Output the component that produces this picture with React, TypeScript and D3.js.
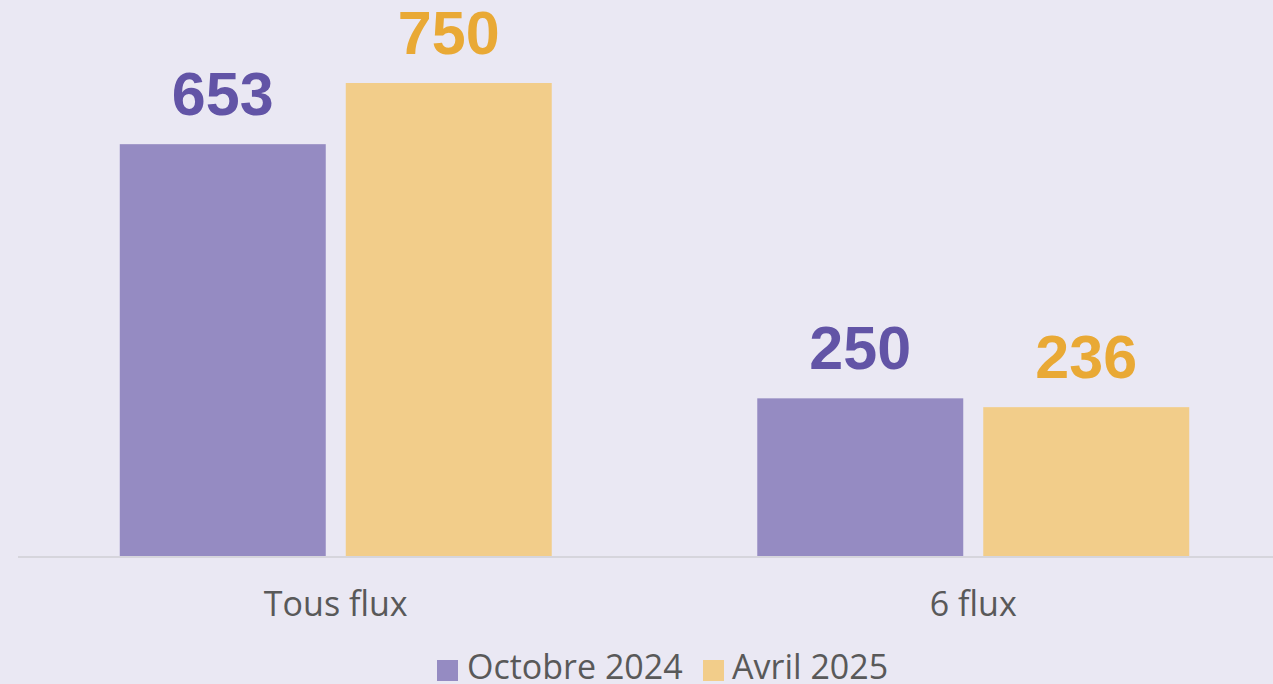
import React from 'react';
import * as d3 from 'd3';

const categories = ['Tous flux', '6 flux'];
const seriesNames = ['Octobre 2024', 'Avril 2025'];
const octobre2024 = [653, 250];
const avril2025 = [750, 236];

const barColors = ['#958BC2', '#F2CD8A'];
const labelColors = ['#6254A6', '#E9A935'];

const W = 1273;
const H = 684;
const baseY = 556;

const App: React.FC = () => {
  const values = [octobre2024, avril2025];

  const x0 = d3
    .scaleBand<string>()
    .domain(categories)
    .range([17, 1292])
    .paddingInner(0.3224)
    .paddingOuter(0.1612);

  const x1 = d3
    .scaleBand<string>()
    .domain(seriesNames)
    .range([0, x0.bandwidth()])
    .paddingInner(0.0885);

  const y = d3.scaleLinear().domain([0, 750]).range([baseY, 83]);

  const font = "'Liberation Sans', Arial, sans-serif";
  const textFont = "'Open Sans', 'Noto Sans', sans-serif";

  return (
    <svg
      width={W}
      height={H}
      style={{ position: 'absolute', left: 0, top: 0, background: '#EAE8F3' }}
    >
      <rect x={0} y={0} width={W} height={H} fill='#EAE8F3' />
      <line x1={18} x2={W} y1={baseY + 1} y2={baseY + 1} stroke='#D6D5DC' strokeWidth={2} />
      {categories.map((cat, ci) => (
        <g key={cat} transform={`translate(${x0(cat)},0)`}>
          {seriesNames.map((s, si) => {
            const v = values[si][ci];
            const bx = x1(s)!;
            return (
              <g key={s}>
                <rect
                  x={bx}
                  y={y(v)}
                  width={x1.bandwidth()}
                  height={baseY - y(v)}
                  fill={barColors[si]}
                />
                <text
                  x={bx + x1.bandwidth() / 2}
                  y={y(v) - 29}
                  textAnchor='middle'
                  fontFamily={font}
                  fontWeight='bold'
                  fontSize={61}
                  fill={labelColors[si]}
                >
                  {v}
                </text>
              </g>
            );
          })}
          <text
            x={x0.bandwidth() / 2}
            y={616}
            textAnchor='middle'
            fontFamily={textFont}
            fontSize={34}
            fill='#595959'
          >
            {cat}
          </text>
        </g>
      ))}
      <g>
        <rect x={437} y={660} width={21} height={21} fill={barColors[0]} />
        <text x={467} y={679} fontFamily={textFont} fontSize={34} fill='#595959'>
          {seriesNames[0]}
        </text>
        <rect x={703} y={660} width={21} height={21} fill={barColors[1]} />
        <text x={732} y={679} fontFamily={textFont} fontSize={34} fill='#595959'>
          {seriesNames[1]}
        </text>
      </g>
    </svg>
  );
};

export default App;
